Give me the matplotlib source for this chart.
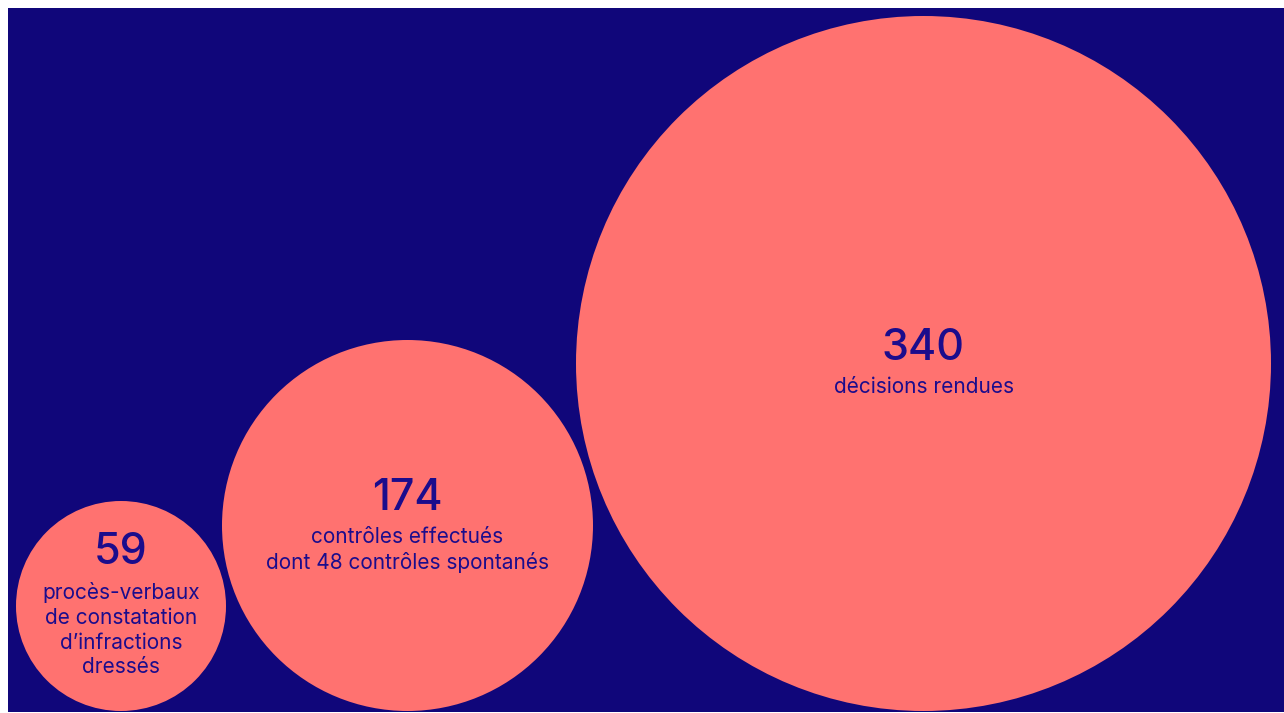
import matplotlib.pyplot as plt
from matplotlib.patches import Circle, Rectangle

# chart data
values = [59, 174, 340]
labels = [
    "procès-verbaux\nde constatation\nd\u2019infractions\ndressés",
    "contrôles effectués\ndont 48 contrôles spontanés",
    "décisions rendues",
]

# layout (pixel coords)
centers = [(121, 606), (407.5, 525.5), (923.5, 363.5)]
radii = [105, 185.5, 347.5]
num_y = [552, 498, 348]
lab_y = [592, 537, 387]

bg = "#10067A"
bubble = "#FF7270"
ink = "#1B0C8C"

plt.rcParams['font.family'] = ['Inter', 'DejaVu Sans']

fig = plt.figure(figsize=(12.84, 7.13), dpi=100)
fig.patch.set_facecolor("white")
ax = fig.add_axes([0, 0, 1, 1])
ax.set_xlim(0, 1284)
ax.set_ylim(713, 0)
ax.axis("off")

ax.add_patch(Rectangle((8, 8), 1276, 704, color=bg, lw=0))

for v, lab, c, r, ny, ly in zip(values, labels, centers, radii, num_y, lab_y):
    ax.add_patch(Circle(c, r, color=bubble, lw=0))
    ax.text(c[0], ny, str(v), ha="center", va="center", fontsize=31,
            color=ink, fontweight="medium")
    ax.text(c[0], ly - 10, lab, ha="center", va="top", fontsize=15,
            color=ink, linespacing=1.3)

fig.savefig("out.png", dpi=100)
